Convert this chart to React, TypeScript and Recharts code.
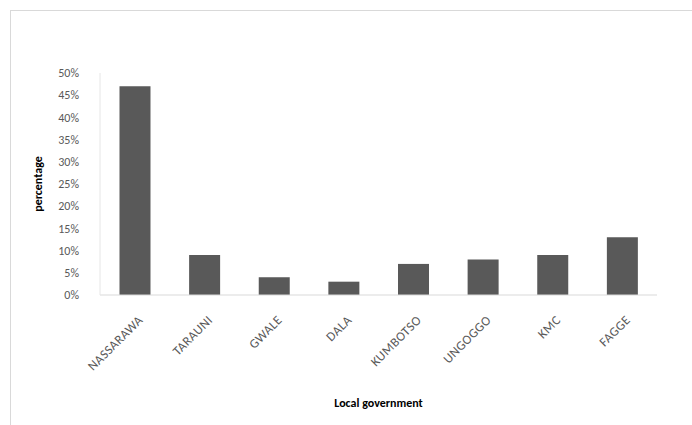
import { BarChart, Bar, XAxis, YAxis } from 'recharts'

const districts = ['NASSARAWA', 'TARAUNI', 'GWALE', 'DALA', 'KUMBOTSO', 'UNGOGGO', 'KMC', 'FAGGE']
const shares = [47, 9, 4, 3, 7, 8, 9, 13]
const yTicks = [0, 5, 10, 15, 20, 25, 30, 35, 40, 45, 50]

const data = districts.map((name, i) => ({ name, value: shares[i] }))

const FONT = 'Carlito, "Open Sans", "Liberation Sans", sans-serif'

// etiquetas inclinadas a -45 como no Excel
function AngledTick(props: any) {
  const { x, y, payload } = props
  return (
    <g transform={`translate(${x + 6},${y + 15})`}>
      <text
        transform="rotate(-45)"
        textAnchor="end"
        fill="#595959"
        fontSize={13}
        letterSpacing={0.4}
        fontFamily={FONT}
        dy={4}
      >
        {payload.value}
      </text>
    </g>
  )
}

export default function App() {
  return (
    <div style={{ position: 'absolute', left: 0, top: 0, width: 692, height: 425, background: '#fff' }}>
      <div
        style={{
          position: 'absolute',
          left: 10,
          top: 10,
          width: 700,
          height: 430,
          border: '1px solid #d9d9d9',
        }}
      />
      <BarChart
        width={692}
        height={425}
        data={data}
        margin={{ top: 73, right: 35, left: 0, bottom: 0 }}
        barCategoryGap="28%"
      >
        <XAxis
          dataKey="name"
          interval={0}
          tick={<AngledTick />}
          tickLine={false}
          axisLine={{ stroke: '#d9d9d9' }}
          height={130}
          label={{
            value: 'Local government',
            position: 'insideBottom',
            offset: 18,
            fill: '#000',
            fontSize: 12,
            fontWeight: 'bold',
            fontFamily: FONT,
          }}
        />
        <YAxis
          width={100}
          domain={[0, 50]}
          ticks={yTicks}
          interval={0}
          tickFormatter={(v) => `${v}%`}
          tickLine={false}
          tickMargin={15}
          axisLine={{ stroke: '#e6e6e6' }}
          tick={{ fill: '#595959', fontSize: 12, fontFamily: FONT }}
          label={{
            content: ({ viewBox }: any) => {
              const cy = viewBox.y + viewBox.height / 2
              return (
                <text
                  x={42}
                  y={cy}
                  transform={`rotate(-90, 42, ${cy})`}
                  textAnchor="middle"
                  fontSize={12}
                  fontWeight="bold"
                  fontFamily={FONT}
                  fill="#000"
                >
                  percentage
                </text>
              )
            },
          }}
        />
        <Bar dataKey="value" fill="#595959" isAnimationActive={false} />
      </BarChart>
    </div>
  )
}
